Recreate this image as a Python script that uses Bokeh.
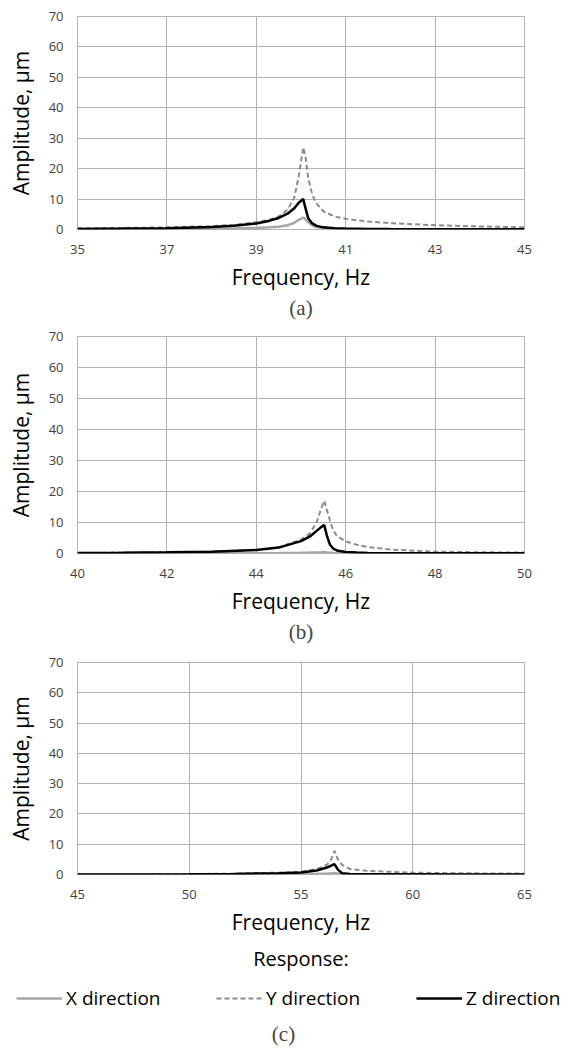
from bokeh.plotting import figure
from bokeh.layouts import column
from bokeh.models import Range1d, FixedTicker, Title, Legend, LegendItem
from bokeh.embed import file_html
from bokeh.resources import INLINE

# ---------------- data ----------------
freq_a = [35, 36, 37, 38, 38.5, 39, 39.3, 39.5, 39.7, 39.85, 39.95, 40.05, 40.1, 40.16, 40.25, 40.35, 40.5, 40.75, 41, 41.5, 42, 43, 44, 45]
x_a = [0.05, 0.07, 0.1, 0.2, 0.3, 0.5, 0.7, 0.9, 1.4, 2.2, 3.2, 3.9, 3.4, 2.4, 1.4, 0.8, 0.4, 0.2, 0.15, 0.1, 0.08, 0.05, 0.05, 0.05]
y_a = [0.4, 0.5, 0.7, 1.1, 1.5, 2.4, 3.3, 4.3, 6.5, 10.5, 17.5, 27.0, 24.0, 17.0, 11.5, 8.5, 6.0, 4.3, 3.5, 2.6, 2.1, 1.4, 1.0, 0.7]
z_a = [0.2, 0.3, 0.45, 0.8, 1.2, 2.0, 2.9, 3.8, 5.2, 7.0, 8.8, 10.0, 7.0, 3.8, 2.0, 1.2, 0.7, 0.4, 0.3, 0.2, 0.15, 0.1, 0.1, 0.1]

freq_b = [40, 41, 42, 43, 44, 44.5, 45, 45.2, 45.35, 45.45, 45.52, 45.58, 45.65, 45.72, 45.8, 46, 46.25, 46.5, 47, 47.5, 48, 49, 50]
x_b = [0.02, 0.03, 0.05, 0.07, 0.1, 0.15, 0.25, 0.3, 0.35, 0.4, 0.45, 0.35, 0.25, 0.15, 0.1, 0.05, 0.03, 0.02, 0.02, 0.02, 0.02, 0.02, 0.02]
y_b = [0.2, 0.3, 0.4, 0.6, 1.2, 2.0, 4.5, 6.5, 10.0, 14.5, 17.0, 14.0, 10.5, 7.5, 5.7, 3.9, 2.8, 2.1, 1.3, 0.9, 0.6, 0.4, 0.3]
z_b = [0.15, 0.25, 0.4, 0.6, 1.1, 1.9, 4.0, 5.5, 7.3, 8.5, 9.2, 5.7, 2.8, 1.6, 1.0, 0.5, 0.3, 0.2, 0.1, 0.1, 0.05, 0.05, 0.05]

freq_c = [45, 50, 52, 54, 55, 55.7, 56.16, 56.35, 56.5, 56.65, 56.84, 57.2, 57.95, 60, 62, 65]
x_c = [0.01, 0.03, 0.05, 0.1, 0.15, 0.25, 0.35, 0.4, 0.45, 0.35, 0.2, 0.1, 0.05, 0.02, 0.02, 0.02]
y_c = [0.05, 0.15, 0.3, 0.6, 0.9, 1.8, 3.2, 5.0, 7.8, 5.0, 3.2, 1.8, 1.2, 0.6, 0.4, 0.3]
z_c = [0.03, 0.1, 0.2, 0.4, 0.65, 1.3, 2.3, 2.9, 3.4, 1.6, 0.4, 0.15, 0.08, 0.05, 0.03, 0.03]

ticks_a = [35, 37, 39, 41, 43, 45]
ticks_b = [40, 42, 44, 46, 48, 50]
ticks_c = [45, 50, 55, 60, 65]
y_ticks = [0, 10, 20, 30, 40, 50, 60, 70]

series_names = ["X direction", "Y direction", "Z direction"]
captions = ["(a)", "(b)", "(c)"]

SANS = "Open Sans"
SERIF = "Liberation Serif"
GRID = "#b3b3b3"
STYLES = [dict(line_color="#a6a6a6", line_width=2.5),
          dict(line_color="#8c8c8c", line_width=2, line_dash="5 3"),
          dict(line_color="black", line_width=2.5)]


def make_panel(freq, xs, ys, zs, ticks, height, top, bottom):
    p = figure(width=566, height=height, output_backend="svg", toolbar_location=None,
               x_range=Range1d(ticks[0], ticks[-1]), y_range=Range1d(0, 70),
               min_border_left=77, min_border_right=42,
               min_border_top=top, min_border_bottom=bottom)
    p.background_fill_color = "white"
    p.border_fill_color = "white"
    p.outline_line_color = GRID
    p.outline_line_width = 1
    p.xaxis.ticker = FixedTicker(ticks=ticks)
    p.yaxis.ticker = FixedTicker(ticks=y_ticks)
    for ax in (p.xaxis[0], p.yaxis[0]):
        ax.axis_line_color = None
        ax.major_tick_line_color = None
        ax.minor_tick_line_color = None
        ax.major_label_text_font = SANS
        ax.major_label_text_font_size = "13px"
        ax.major_label_text_color = "#404040"
        ax.axis_label_text_font = SANS
        ax.axis_label_text_font_size = "21px"
        ax.axis_label_text_font_style = "normal"
        ax.axis_label_text_color = "black"
    p.xaxis.major_label_standoff = 9
    p.yaxis.major_label_standoff = 8
    p.xaxis.axis_label = "Frequency, Hz"
    p.yaxis.axis_label = "Amplitude, µm"
    p.xaxis.axis_label_standoff = 6
    p.yaxis.axis_label_standoff = 11
    p.xgrid.grid_line_color = GRID
    p.ygrid.grid_line_color = GRID
    p.xgrid.ticker = FixedTicker(ticks=ticks)
    p.ygrid.ticker = FixedTicker(ticks=y_ticks)

    rends = [p.line(freq, vals, **st) for vals, st in zip((xs, ys, zs), STYLES)]
    return p, rends


pa, _ = make_panel(freq_a, x_a, y_a, z_a, ticks_a, 320, 16, 91)
pb, _ = make_panel(freq_b, x_b, y_b, z_b, ticks_b, 324, 16, 91)
pc, _ = make_panel(freq_c, x_c, y_c, z_c, ticks_c, 340, 18, 110)

for p, cap in ((pa, captions[0]), (pb, captions[1])):
    p.add_layout(Title(text=cap, align="center", text_font=SERIF, text_font_size="21px",
                       text_font_style="normal", standoff=1), "below")

pc.add_layout(Title(text="Response:", align="center", text_font=SANS, text_font_size="20px",
                    text_font_style="normal", text_color="black", standoff=8), "below")

# legend strip with caption (c): a separate root so its frame spans the full width.
# Its series lines (same data as panel c) lie outside this strip's view; only the legend keys show.
pl = figure(width=566, height=64, output_backend="svg", toolbar_location=None,
            x_range=Range1d(0, 1), y_range=Range1d(0, 1), x_axis_type=None, y_axis_type=None,
            min_border_left=0, min_border_right=0, min_border_top=0, min_border_bottom=30)
pl.outline_line_color = None
pl.grid.visible = False
leg_renderers = [pl.line(freq_c, vals, **st) for vals, st in zip((x_c, y_c, z_c), STYLES)]
legend = Legend(items=[LegendItem(label=n, renderers=[r]) for n, r in zip(series_names, leg_renderers)],
                orientation="horizontal", location=(16, 5),
                glyph_width=46, glyph_height=16, label_standoff=4, label_width=100, spacing=50,
                padding=0, margin=0, border_line_color=None, background_fill_alpha=0,
                label_text_font=SANS, label_text_font_size="19px", label_text_color="black")
pl.add_layout(legend)
pl.add_layout(Title(text=captions[2], align="center", text_font=SERIF, text_font_size="21px",
                    text_font_style="normal", standoff=6), "below")

layout = column(pa, pb, pc, spacing=0)
open("out.html", "w").write(file_html([layout, pl], INLINE))
